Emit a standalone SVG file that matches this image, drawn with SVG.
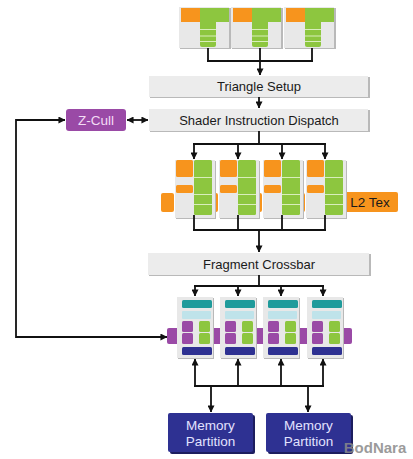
<svg xmlns="http://www.w3.org/2000/svg" width="413" height="459" viewBox="0 0 413 459">
<defs>
<style>
.bar{fill:#ececec;}
.sh{fill:#b9b9b9;}
.lbl{font-family:"Liberation Sans",Arial,sans-serif;font-size:13px;fill:#1a1a1a;text-anchor:middle;}
.unit{fill:#e8e8e8;}
.or{fill:#f7941d;}
.gr{fill:#8dc63f;}
.gl{stroke:#d9eebb;stroke-width:1;}
.teal{fill:#1f9b9b;}
.cy{fill:#bfe3ea;}
.pu{fill:#9a4aa6;}
.db{fill:#2e3192;}
.ln{fill:none;stroke:#111;stroke-width:1.8;}
.arr{marker-end:url(#ah);}
</style>
<marker id="ah" viewBox="0 0 8 8" refX="7.5" refY="4" markerWidth="7" markerHeight="7" markerUnits="userSpaceOnUse" orient="auto-start-reverse">
<path d="M0,0 L8,4 L0,8 z" fill="#111"/>
</marker>
</defs>
<rect width="413" height="459" fill="#ffffff"/>

<!-- vertex units -->
<g id="vertex1">
<rect x="180" y="8" width="51" height="41" class="sh"/>
<rect x="179" y="7" width="50" height="41" class="unit"/>
<rect x="181" y="8" width="19" height="14" class="or"/>
<rect x="200" y="8" width="29" height="14" class="gr"/>
<path d="M200 22 H216 V45 Q216 47 214 47 H202 Q200 47 200 45 Z" class="gr"/>
<path d="M200 29.5 H216 M200 36 H216 M200 41.5 H216" class="gl"/>
</g>
<g id="vertex2">
<rect x="232" y="8" width="51" height="41" class="sh"/>
<rect x="231" y="7" width="50" height="41" class="unit"/>
<rect x="233" y="8" width="19" height="14" class="or"/>
<rect x="252" y="8" width="29" height="14" class="gr"/>
<path d="M252 22 H268 V45 Q268 47 266 47 H254 Q252 47 252 45 Z" class="gr"/>
<path d="M252 29.5 H268 M252 36 H268 M252 41.5 H268" class="gl"/>
</g>
<g id="vertex3">
<rect x="285" y="8" width="51" height="41" class="sh"/>
<rect x="284" y="7" width="50" height="41" class="unit"/>
<rect x="286" y="8" width="19" height="14" class="or"/>
<rect x="305" y="8" width="29" height="14" class="gr"/>
<path d="M305 22 H321 V45 Q321 47 319 47 H307 Q305 47 305 45 Z" class="gr"/>
<path d="M305 29.5 H321 M305 36 H321 M305 41.5 H321" class="gl"/>
</g>

<g id="triangle-setup">
<rect x="150" y="77" width="220" height="21" class="sh"/>
<rect x="149" y="76" width="219" height="21" class="bar"/>
<text x="259" y="91" class="lbl">Triangle Setup</text>
</g>

<g id="shader-dispatch">
<rect x="150" y="110" width="220" height="22" class="sh"/>
<rect x="149" y="109" width="219" height="22" class="bar"/>
<text x="259" y="125" class="lbl">Shader Instruction Dispatch</text>
</g>

<g id="z-cull">
<rect x="66" y="109" width="60" height="22" rx="3" class="pu"/>
<text x="96" y="125" class="lbl" style="fill:#f3dcf5;font-size:13.5px">Z-Cull</text>
</g>

<!-- pixel shader units -->
<g id="pixel-tabs">
<rect x="161" y="193" width="13" height="19" rx="2" class="or"/>
<rect x="205" y="193" width="13" height="19" rx="2" class="or"/>
<rect x="249" y="193" width="13" height="19" rx="2" class="or"/>
<rect x="292" y="193" width="13" height="19" rx="2" class="or"/>
</g>
<g id="l2-tex">
<rect x="344" y="192" width="54" height="20" rx="2" class="or"/>
<text x="370" y="207" class="lbl" style="font-size:13.5px">L2 Tex</text>
</g>
<g id="pixel1">
<rect x="176" y="161" width="40" height="58" class="sh"/>
<rect x="175" y="160" width="40" height="58" class="unit"/>
<rect x="176" y="160" width="17" height="17" rx="1.5" class="or"/>
<rect x="176" y="185" width="17" height="8" rx="1.5" class="or"/>
<rect x="194" y="160" width="18" height="55" rx="1.5" class="gr"/>
<path d="M194 177.5 H212 M194 194.5 H212 M194 204.5 H212" class="gl"/>
</g>
<g id="pixel2">
<rect x="220" y="161" width="40" height="58" class="sh"/>
<rect x="219" y="160" width="40" height="58" class="unit"/>
<rect x="220" y="160" width="17" height="17" rx="1.5" class="or"/>
<rect x="220" y="185" width="17" height="8" rx="1.5" class="or"/>
<rect x="238" y="160" width="18" height="55" rx="1.5" class="gr"/>
<path d="M238 177.5 H256 M238 194.5 H256 M238 204.5 H256" class="gl"/>
</g>
<g id="pixel3">
<rect x="264" y="161" width="40" height="58" class="sh"/>
<rect x="263" y="160" width="40" height="58" class="unit"/>
<rect x="264" y="160" width="17" height="17" rx="1.5" class="or"/>
<rect x="264" y="185" width="17" height="8" rx="1.5" class="or"/>
<rect x="282" y="160" width="18" height="55" rx="1.5" class="gr"/>
<path d="M282 177.5 H300 M282 194.5 H300 M282 204.5 H300" class="gl"/>
</g>
<g id="pixel4">
<rect x="307" y="161" width="40" height="58" class="sh"/>
<rect x="306" y="160" width="40" height="58" class="unit"/>
<rect x="307" y="160" width="17" height="17" rx="1.5" class="or"/>
<rect x="307" y="185" width="17" height="8" rx="1.5" class="or"/>
<rect x="325" y="160" width="18" height="55" rx="1.5" class="gr"/>
<path d="M325 177.5 H343 M325 194.5 H343 M325 204.5 H343" class="gl"/>
</g>

<g id="fragment-crossbar">
<rect x="149" y="254" width="222" height="22" class="sh"/>
<rect x="148" y="253" width="221" height="22" class="bar"/>
<text x="259" y="269" class="lbl">Fragment Crossbar</text>
</g>

<!-- ROP units -->
<g id="rop-tabs">
<rect x="167" y="328" width="12" height="16" rx="2" class="pu"/>
<rect x="210" y="328" width="12" height="16" rx="2" class="pu"/>
<rect x="253" y="328" width="12" height="16" rx="2" class="pu"/>
<rect x="297" y="328" width="12" height="16" rx="2" class="pu"/>
<rect x="340" y="328" width="12" height="16" rx="2" class="pu"/>
</g>
<g id="rop1">
<rect x="178" y="298" width="36" height="61" class="sh"/>
<rect x="177" y="297" width="36" height="61" class="unit"/>
<rect x="182" y="300" width="30" height="8" rx="1.5" class="teal"/>
<rect x="182" y="311" width="29" height="8" rx="1" class="cy"/>
<rect x="182" y="321" width="11" height="11" rx="1.5" class="pu"/>
<rect x="182" y="333" width="11" height="11" rx="1.5" class="pu"/>
<rect x="199" y="321" width="11" height="11" rx="1.5" class="gr"/>
<rect x="199" y="333" width="11" height="11" rx="1.5" class="gr"/>
<rect x="182" y="347" width="30" height="8" rx="1.5" class="db"/>
</g>
<g id="rop2">
<rect x="221" y="298" width="36" height="61" class="sh"/>
<rect x="220" y="297" width="36" height="61" class="unit"/>
<rect x="225" y="300" width="30" height="8" rx="1.5" class="teal"/>
<rect x="225" y="311" width="29" height="8" rx="1" class="cy"/>
<rect x="225" y="321" width="11" height="11" rx="1.5" class="pu"/>
<rect x="225" y="333" width="11" height="11" rx="1.5" class="pu"/>
<rect x="242" y="321" width="11" height="11" rx="1.5" class="gr"/>
<rect x="242" y="333" width="11" height="11" rx="1.5" class="gr"/>
<rect x="225" y="347" width="30" height="8" rx="1.5" class="db"/>
</g>
<g id="rop3">
<rect x="264" y="298" width="36" height="61" class="sh"/>
<rect x="263" y="297" width="36" height="61" class="unit"/>
<rect x="268" y="300" width="30" height="8" rx="1.5" class="teal"/>
<rect x="268" y="311" width="29" height="8" rx="1" class="cy"/>
<rect x="268" y="321" width="11" height="11" rx="1.5" class="pu"/>
<rect x="268" y="333" width="11" height="11" rx="1.5" class="pu"/>
<rect x="285" y="321" width="11" height="11" rx="1.5" class="gr"/>
<rect x="285" y="333" width="11" height="11" rx="1.5" class="gr"/>
<rect x="268" y="347" width="30" height="8" rx="1.5" class="db"/>
</g>
<g id="rop4">
<rect x="308" y="298" width="36" height="61" class="sh"/>
<rect x="307" y="297" width="36" height="61" class="unit"/>
<rect x="312" y="300" width="30" height="8" rx="1.5" class="teal"/>
<rect x="312" y="311" width="29" height="8" rx="1" class="cy"/>
<rect x="312" y="321" width="11" height="11" rx="1.5" class="pu"/>
<rect x="312" y="333" width="11" height="11" rx="1.5" class="pu"/>
<rect x="329" y="321" width="11" height="11" rx="1.5" class="gr"/>
<rect x="329" y="333" width="11" height="11" rx="1.5" class="gr"/>
<rect x="312" y="347" width="30" height="8" rx="1.5" class="db"/>
</g>

<g id="memory-partition1">
<rect x="170" y="415" width="85" height="39" rx="2" fill="#1c1d5e"/>
<rect x="168" y="413" width="85" height="39" rx="2" class="db"/>
<text x="210.5" y="430" class="lbl" style="fill:#e2e2ff;font-size:13.5px">Memory</text>
<text x="210.5" y="446" class="lbl" style="fill:#e2e2ff;font-size:13.5px">Partition</text>
</g>
<g id="memory-partition2">
<rect x="268" y="415" width="85" height="39" rx="2" fill="#1c1d5e"/>
<rect x="266" y="413" width="85" height="39" rx="2" class="db"/>
<text x="308.5" y="430" class="lbl" style="fill:#e2e2ff;font-size:13.5px">Memory</text>
<text x="308.5" y="446" class="lbl" style="fill:#e2e2ff;font-size:13.5px">Partition</text>
</g>

<g id="connectors">
<path class="ln" d="M208 48 V61 M260 48 V61 M312 48 V61 M207 61 H313"/>
<path class="ln arr" d="M260 61 V75"/>
<path class="ln arr" d="M259 97 V108"/>
<path class="ln arr" d="M127 120 H148" style="marker-start:url(#ah)"/>
<path class="ln arr" d="M167 337 H16 V120 H65" style="marker-start:url(#ah)"/>
<path class="ln" d="M259 131 V144 M193 144 H326"/>
<path class="ln arr" d="M194 144 V159"/>
<path class="ln arr" d="M238 144 V159"/>
<path class="ln arr" d="M282 144 V159"/>
<path class="ln arr" d="M325 144 V159"/>
<path class="ln" d="M194 215 V230 M238 215 V230 M282 215 V230 M325 215 V230 M193 230 H326"/>
<path class="ln arr" d="M259 230 V252"/>
<path class="ln" d="M259 275 V286 M194 286 H324"/>
<path class="ln arr" d="M195 286 V296"/>
<path class="ln arr" d="M238 286 V296"/>
<path class="ln arr" d="M281 286 V296"/>
<path class="ln arr" d="M323 286 V296"/>
<path class="ln" d="M194 386 H324"/>
<path class="ln arr" d="M195 386 V359"/>
<path class="ln arr" d="M238 386 V359"/>
<path class="ln arr" d="M281 386 V359"/>
<path class="ln arr" d="M323 386 V359"/>
<path class="ln arr" d="M211 386 V412"/>
<path class="ln arr" d="M308 386 V412"/>
</g>

<text x="375" y="453" style="font-family:'Liberation Sans',Arial,sans-serif;font-size:15px;font-weight:bold;fill:#8a8a8a;text-anchor:middle;opacity:0.85">BodNara</text>
</svg>
